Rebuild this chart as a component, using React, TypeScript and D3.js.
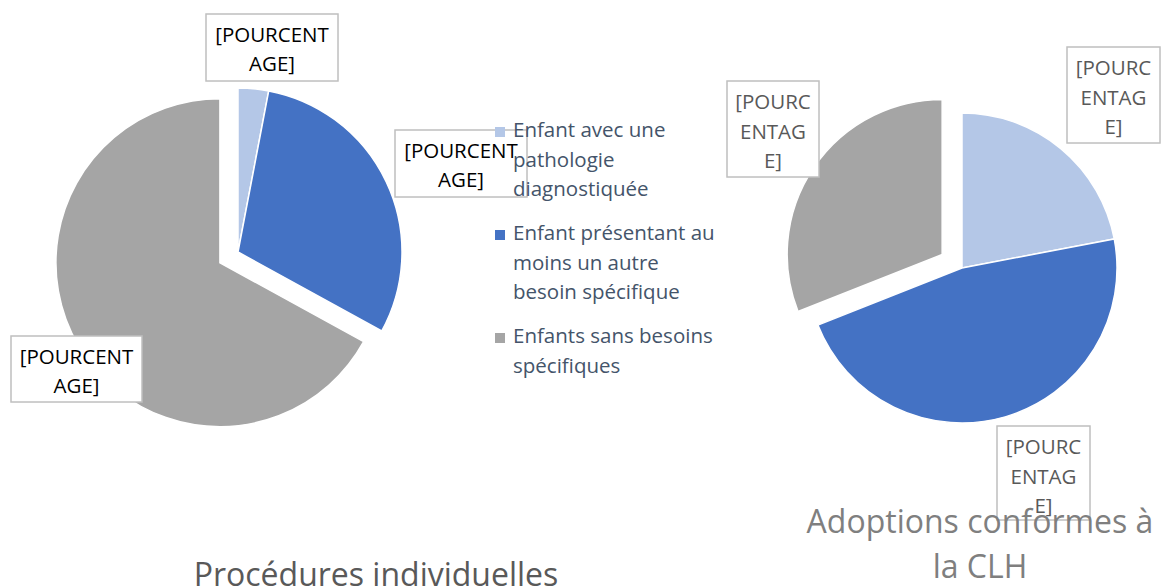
import React from "react";
import * as d3 from "d3";

// series (percent shares)
const categories = [
  "Enfant avec une pathologie diagnostiquée",
  "Enfant présentant au moins un autre besoin spécifique",
  "Enfants sans besoins spécifiques",
];
const legendLines = [
  ["Enfant avec une", "pathologie", "diagnostiquée"],
  ["Enfant présentant au", "moins un autre", "besoin spécifique"],
  ["Enfants sans besoins", "spécifiques"],
];
const procValues = [3, 30, 67];
const adoptValues = [22, 47, 31];
const colors = ["#B4C7E7", "#4472C4", "#A5A5A5"];
const procTitle = ["Procédures individuelles"];
const adoptTitle = ["Adoptions conformes à", "la CLH"];
const procLabel = ["[POURCENT", "AGE]"];
const adoptLabel = ["[POURC", "ENTAG", "E]"];

const W = 1162;
const H = 588;
const FONT = "'Open Sans', Calibri, sans-serif";

type LabelBox = { x: number; y: number; w: number; h: number };

const Pie = ({ values, cx, cy, r, explode, boxes, label, labelColor, lineH }: {
  values: number[]; cx: number; cy: number; r: number; explode: number[];
  boxes: LabelBox[]; label: string[]; labelColor: string; lineH: number;
}) => {
  const pie = d3.pie<number>().sort(null).startAngle(0).endAngle(2 * Math.PI);
  const arcs = pie(values);
  const arc = d3.arc<d3.PieArcDatum<number>>().innerRadius(0).outerRadius(r);
  return (
    <g>
      {arcs.map((a, i) => {
        const mid = (a.startAngle + a.endAngle) / 2;
        const dx = Math.sin(mid) * explode[i];
        const dy = -Math.cos(mid) * explode[i];
        return (
          <path key={i} d={arc(a) || ""} fill={colors[i]} stroke="#fff" strokeWidth={1.5}
            transform={`translate(${cx + dx},${cy + dy})`} />
        );
      })}
      {boxes.map((b, i) => (
        <g key={"l" + i}>
          <rect x={b.x} y={b.y} width={b.w} height={b.h} fill="#fff" stroke="#BFBFBF" strokeWidth={1.5} />
          {label.map((t, j) => (
            <text key={j} x={b.x + b.w / 2} y={b.y + 28 + j * lineH} textAnchor="middle"
              fontSize={20.5} fill={labelColor} fontFamily={FONT}>{t}</text>
          ))}
        </g>
      ))}
    </g>
  );
};

export default function App() {
  return (
    <svg width={W} height={H} style={{ position: "absolute", left: 0, top: 0, background: "#fff" }}>
      <Pie values={procValues} cx={238} cy={252} r={164} explode={[0, 0, 21]}
        boxes={[{ x: 206, y: 14, w: 132, h: 67 }, { x: 395, y: 130, w: 132, h: 67 }, { x: 11, y: 336, w: 131, h: 66 }]}
        label={procLabel} labelColor="#000" lineH={29} />
      <Pie values={adoptValues} cx={962} cy={268} r={155} explode={[0, 0, 24]}
        boxes={[{ x: 1067, y: 47, w: 93, h: 96 }, { x: 997, y: 426, w: 93, h: 94 }, { x: 727, y: 81, w: 92, h: 96 }]}
        label={adoptLabel} labelColor="#595959" lineH={29.5} />

      {/* legend */}
      {legendLines.map((lines, i) => {
        const top = [137, 240, 343][i];
        return (
          <g key={categories[i]}>
            <rect x={495} y={top - 10} width={10} height={10} fill={colors[i]} />
            {lines.map((t, j) => (
              <text key={j} x={513} y={top + j * 29.5} fontSize={20.5} fill="#44546A" fontFamily={FONT}>{t}</text>
            ))}
          </g>
        );
      })}

      {/* titles */}
      {procTitle.map((t, j) => (
        <text key={j} x={376} y={586} textAnchor="middle" fontSize={32} fill="#595959" fontFamily={FONT}>{t}</text>
      ))}
      {adoptTitle.map((t, j) => (
        <text key={j} x={980} y={533 + j * 45} textAnchor="middle" fontSize={32} fill="#7F7F7F" fontFamily={FONT}>{t}</text>
      ))}
    </svg>
  );
}
